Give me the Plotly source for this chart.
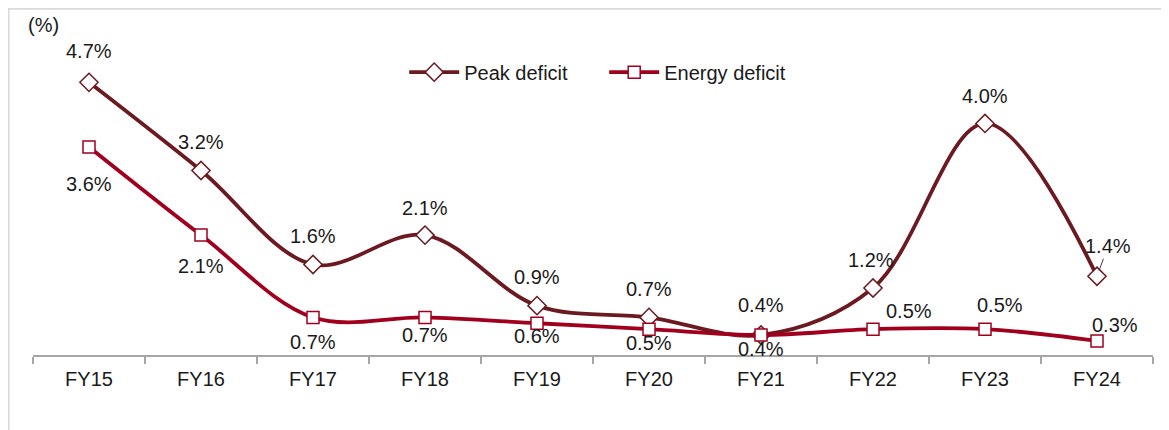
import plotly.graph_objects as go

categories = ["FY15", "FY16", "FY17", "FY18", "FY19", "FY20", "FY21", "FY22", "FY23", "FY24"]
peak_deficit = [4.7, 3.2, 1.6, 2.1, 0.9, 0.7, 0.4, 1.2, 4.0, 1.4]
energy_deficit = [3.6, 2.1, 0.7, 0.7, 0.6, 0.5, 0.4, 0.5, 0.5, 0.3]

# label offsets (pixels): (xshift, yshift)
peak_off = [(0, 31), (0, 28), (0, 29), (0, 27), (0, 29), (0, 28), (0, 30), (-2, 28), (0, 27), None]
energy_off = [(0, -37), (0, -31), (0, -25), (0, -18), (0, -13), (0, -14), (0, -14), (36, 18), (15, 24), (18, 16)]

PEAK_C = "#6B1A22"
ENERGY_C = "#A0001E"
FONT = "Liberation Sans, Arial, sans-serif"
TXT = "#1a1a1a"
FS = 20

fig = go.Figure()
fig.add_trace(go.Scatter(
    x=categories, y=peak_deficit, name="Peak deficit", mode="lines+markers",
    line=dict(color=PEAK_C, width=3.8, shape="spline", smoothing=1.0),
    marker=dict(symbol="diamond", size=14, color="white", line=dict(color=PEAK_C, width=1.5)),
))
fig.add_trace(go.Scatter(
    x=categories, y=energy_deficit, name="Energy deficit", mode="lines+markers",
    line=dict(color=ENERGY_C, width=3.8, shape="spline", smoothing=1.0),
    marker=dict(symbol="square", size=12, color="white", line=dict(color=ENERGY_C, width=1.5)),
))

anns = []
for c, v, off in zip(categories, peak_deficit, peak_off):
    if off is None:
        anns.append(dict(x=c, y=v, text=f"{v:.1f}%", showarrow=True, arrowhead=0,
                         arrowwidth=1, arrowcolor="#404040", ax=11, ay=-30, standoff=6,
                         font=dict(size=FS, color=TXT, family=FONT)))
    else:
        anns.append(dict(x=c, y=v, text=f"{v:.1f}%", showarrow=False,
                         xshift=off[0], yshift=off[1],
                         font=dict(size=FS, color=TXT, family=FONT)))
for c, v, off in zip(categories, energy_deficit, energy_off):
    anns.append(dict(x=c, y=v, text=f"{v:.1f}%", showarrow=False,
                     xshift=off[0], yshift=off[1],
                     font=dict(size=FS, color=TXT, family=FONT)))
anns.append(dict(xref="paper", yref="paper", x=0.009, y=1.048, xanchor="center", yanchor="middle",
                 text="(%)", showarrow=False, font=dict(size=FS, color=TXT, family=FONT)))

fig.update_layout(
    width=1169, height=430,
    margin=dict(l=25, r=24, t=32, b=83),
    paper_bgcolor="white", plot_bgcolor="white",
    font=dict(family=FONT, size=FS, color=TXT),
    showlegend=True,
    legend=dict(orientation="h", x=0.51, xanchor="center", y=0.898, yanchor="middle",
                font=dict(size=FS, color=TXT, family=FONT), bgcolor="rgba(0,0,0,0)",
                itemwidth=50, entrywidth=135, entrywidthmode="pixels", tracegroupgap=0),
    annotations=anns,
    shapes=[dict(type="rect", xref="paper", yref="paper", x0=-0.0218, x1=1.05, y0=-0.4, y1=1.099,
                 line=dict(color="#dadada", width=2), fillcolor="rgba(0,0,0,0)", layer="below")],
)
fig.update_xaxes(type="category", range=[-0.5, 9.5], showline=True, linecolor="#a6a6a6", linewidth=1.5,
                 ticks="outside", tickson="boundaries", ticklen=7, tickcolor="#a6a6a6", tickwidth=1.5,
                 ticklabelstandoff=5,
                 showgrid=False, zeroline=False, tickfont=dict(size=FS, color=TXT, family=FONT))
fig.update_yaxes(range=[0.06, 5.42], visible=False, showgrid=False, zeroline=False)

fig.write_html("out.html")
